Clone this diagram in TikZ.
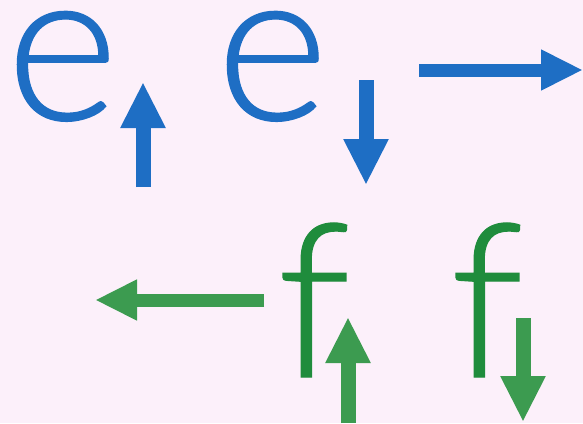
\documentclass[tikz,border=0pt]{standalone}
\usepackage{fontspec}
\newfontfamily\spinfont{Lato Light}[RawFeature={embolden=0.6}]
\usetikzlibrary{arrows.meta,positioning}
\definecolor{Paper}{HTML}{FCF0FA}
\definecolor{Elec}{HTML}{1E6EC4}
\definecolor{Ferm}{HTML}{1F8C3C}
\definecolor{Fermp}{HTML}{3C9B50}

\begin{document}
\begin{tikzpicture}[x=1pt,y=-1pt,
  letter/.style={inner sep=0pt,anchor=base west,font=\spinfont\fontsize{215}{215}\selectfont},
  spin/.style={line width=15pt,-{Triangle[length=46pt,width=42pt]}},
  flat/.style={line width=13pt,-{Triangle[length=42pt,width=38pt]}}]
  \fill[Paper] (0,0) rectangle (583,423);
  \useasboundingbox (0,0) rectangle (583,423);
  % e row
  \node[letter,Elec] (e1) at (6,120) {e};
  \node[letter,Elec] (e2) at (216,120) {e};
  \coordinate (e1s) at (143,187);
  \coordinate (e1t) at (143,82);
  \coordinate (e2s) at (366,80);
  \coordinate (e2t) at (366,185);
  \coordinate (ers) at (419,70);
  \coordinate (ert) at (583,70);
  \draw[spin,Elec] (e1s) -- (e1t);
  \draw[spin,Elec] (e2s) -- (e2t);
  \draw[flat,Elec] (ers) -- (ert);
  % f row
  \node[letter,Ferm] (f1) at (277,377) {f};
  \node[letter,Ferm] (f2) at (450,377) {f};
  \coordinate (fls) at (264,300);
  \coordinate (flt) at (95,300);
  \coordinate (f1s) at (348,423);
  \coordinate (f1t) at (348,317);
  \coordinate (f2s) at (523,318);
  \coordinate (f2t) at (523,422);
  \draw[flat,Fermp] (fls) -- (flt);
  \draw[spin,Fermp] (f1s) -- (f1t);
  \draw[spin,Fermp] (f2s) -- (f2t);
\end{tikzpicture}
\end{document}
